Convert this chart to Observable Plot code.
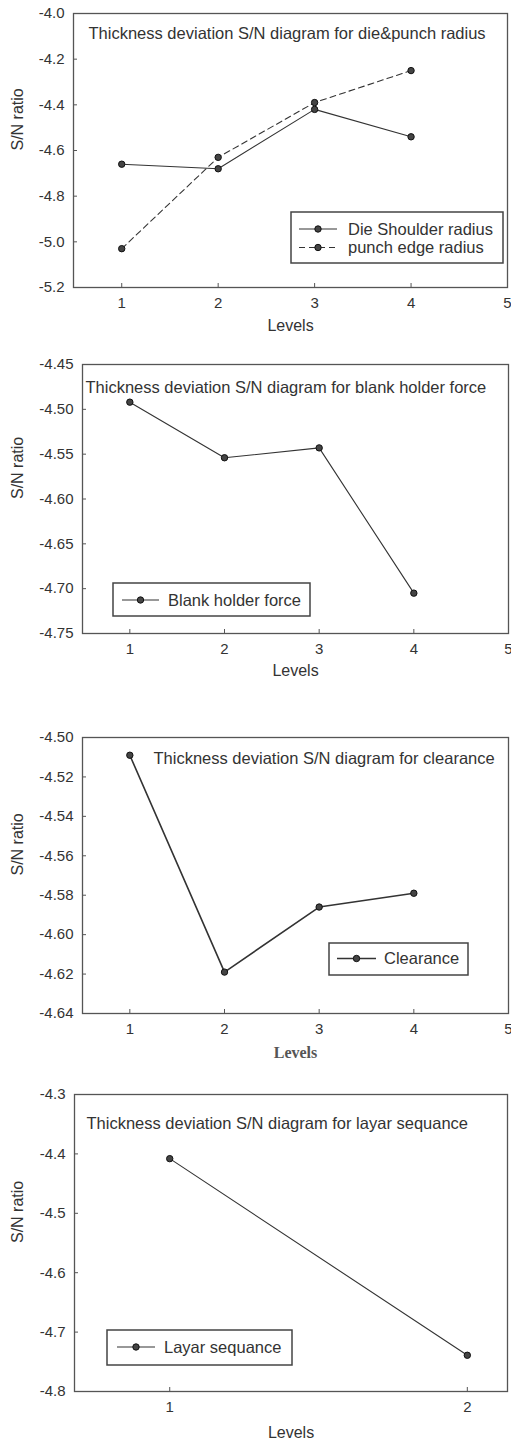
<!DOCTYPE html>
<html>
<head>
<meta charset="utf-8">
<script src="https://cdn.jsdelivr.net/npm/d3@7"></script>
<script src="https://cdn.jsdelivr.net/npm/@observablehq/plot@0.6"></script>
<style>
  html, body { margin: 0; padding: 0; background: #fff; }
  #root { position: relative; width: 511px; height: 1446px; overflow: hidden; }
  .panel { position: absolute; left: 0; }
  .legend { position: absolute; }
</style>
</head>
<body>
<div id="root"></div>
<script>
// ---------- data ----------
const levels4 = [1, 2, 3, 4];
const levels2 = [1, 2];

const dieShoulderRadius = [-4.66, -4.68, -4.42, -4.54];
const punchEdgeRadius   = [-5.03, -4.63, -4.39, -4.25];
const blankHolderForce  = [-4.492, -4.554, -4.543, -4.705];
const clearance         = [-4.509, -4.619, -4.586, -4.579];
const layarSequance     = [-4.408, -4.739];

const xTicks4 = [1, 2, 3, 4, 5];
const xTicks2 = [1, 2];
const yTicks1 = [-5.2, -5.0, -4.8, -4.6, -4.4, -4.2, -4.0];
const yTicks2 = [-4.75, -4.70, -4.65, -4.60, -4.55, -4.50, -4.45];
const yTicks3 = [-4.64, -4.62, -4.60, -4.58, -4.56, -4.54, -4.52, -4.50];
const yTicks4 = [-4.8, -4.7, -4.6, -4.5, -4.4, -4.3];

const titles = [
  "Thickness deviation S/N diagram for die&punch radius",
  "Thickness deviation S/N diagram for blank holder force",
  "Thickness deviation S/N diagram for clearance",
  "Thickness deviation S/N diagram for layar sequance"
];

// ---------- layout ----------
const W = 511;
const INK = "#333";
const FONT = "'Liberation Sans', Arial, sans-serif";

const panels = [
  {
    top: 0, height: 340, mt: 13, mb: 53, ml: 73, mr: 4,
    xDomain: [0.5, 5], xTicks: xTicks4, yDomain: [-5.2, -4.0], yTicks: yTicks1, dec: 1,
    series: [
      {name: "Die Shoulder radius", x: levels4, y: dieShoulderRadius, dash: null},
      {name: "punch edge radius", x: levels4, y: punchEdgeRadius, dash: "6,4"}
    ],
    sw: 1.1, title: titles[0], tdx: 15, tdy: 20, levelsDy: 43, levelsSerif: false,
    legend: {left: 291, top: 212, w: 212, h: 51, rowY: [17, 35.5], lx1: 8, lx2: 46, tx: 57}
  },
  {
    top: 340, height: 350, mt: 24, mb: 57, ml: 82, mr: 3,
    xDomain: [0.5, 5], xTicks: xTicks4, yDomain: [-4.75, -4.45], yTicks: yTicks2, dec: 2,
    series: [{name: "Blank holder force", x: levels4, y: blankHolderForce, dash: null}],
    sw: 1.1, title: titles[1], tdx: 3, tdy: 23, levelsDy: 42, levelsSerif: false,
    legend: {left: 113, top: 583, w: 197, h: 33, rowY: [17], lx1: 9, lx2: 46, tx: 55}
  },
  {
    top: 690, height: 380, mt: 47, mb: 57, ml: 82, mr: 3,
    xDomain: [0.5, 5], xTicks: xTicks4, yDomain: [-4.64, -4.50], yTicks: yTicks3, dec: 2,
    series: [{name: "Clearance", x: levels4, y: clearance, dash: null}],
    sw: 1.6, title: titles[2], tdx: 71, tdy: 21, levelsDy: 44, levelsSerif: true,
    legend: {left: 329, top: 943, w: 139, h: 32, rowY: [15.5], lx1: 8, lx2: 47, tx: 55}
  },
  {
    top: 1070, height: 376, mt: 24, mb: 55, ml: 74, mr: 4,
    xDomain: [0.68, 2.135], xTicks: xTicks2, yDomain: [-4.8, -4.3], yTicks: yTicks4, dec: 1,
    series: [{name: "Layar sequance", x: levels2, y: layarSequance, dash: null}],
    sw: 1.1, title: titles[3], tdx: 12, tdy: 29, levelsDy: 46, levelsSerif: false,
    legend: {left: 107, top: 1330, w: 185, h: 35, rowY: [17], lx1: 10, lx2: 48, tx: 57}
  }
];

const root = document.getElementById("root");

for (const p of panels) {
  const marks = [Plot.frame({stroke: "#555", strokeWidth: 1.3})];
  // inward ticks
  marks.push(Plot.axisY(p.yTicks, {tickSize: 4, dx: 4, text: null, label: null, stroke: "#555"}));
  marks.push(Plot.axisX(p.xTicks, {tickSize: 4, dy: -4, text: null, label: null, stroke: "#555"}));
  // tick labels
  marks.push(Plot.axisY(p.yTicks, {tickSize: 0, tickPadding: 9, label: null,
    tickFormat: d => d.toFixed(p.dec), fontSize: 15, fill: INK}));
  marks.push(Plot.axisX(p.xTicks, {tickSize: 0, tickPadding: 10, label: null,
    tickFormat: d => String(d), fontSize: 15, fill: INK}));
  // series
  for (const s of p.series) {
    const data = s.x.map((x, i) => ({x, y: s.y[i]}));
    marks.push(Plot.line(data, {x: "x", y: "y", stroke: INK, strokeWidth: p.sw, strokeDasharray: s.dash}));
    marks.push(Plot.dot(data, {x: "x", y: "y", r: 3.2, fill: "#444", stroke: "#111", strokeWidth: 1}));
  }
  // titles and axis labels
  marks.push(Plot.text([p.title], {text: d => d, frameAnchor: "top-left", textAnchor: "start",
    lineAnchor: "middle", dx: p.tdx, dy: p.tdy, fontSize: 16.5, fill: INK}));
  marks.push(Plot.text(["S/N ratio"], {text: d => d, frameAnchor: "left", rotate: -90,
    dx: 17 - p.ml, fontSize: 16, fill: INK}));
  marks.push(Plot.text(["Levels"], {text: d => d, frameAnchor: "bottom", dy: p.levelsDy,
    fontSize: 16, fill: p.levelsSerif ? "#555" : INK,
    fontFamily: p.levelsSerif ? "'Liberation Serif', 'Times New Roman', serif" : FONT,
    fontWeight: p.levelsSerif ? "bold" : "normal"}));

  const svg = Plot.plot({
    width: W, height: p.height,
    marginTop: p.mt, marginBottom: p.mb, marginLeft: p.ml, marginRight: p.mr,
    x: {domain: p.xDomain},
    y: {domain: p.yDomain},
    style: {fontFamily: FONT, fontSize: "15px", color: INK, background: "transparent", overflow: "visible"},
    marks
  });
  const div = document.createElement("div");
  div.className = "panel";
  div.style.top = p.top + "px";
  div.appendChild(svg);
  root.appendChild(div);

  // legend box
  const L = p.legend;
  const lg = d3.create("svg").attr("class", "legend")
    .attr("width", L.w + 2).attr("height", L.h + 2)
    .style("left", (L.left - 1) + "px").style("top", (L.top - 1) + "px");
  lg.append("rect").attr("x", 1).attr("y", 1).attr("width", L.w).attr("height", L.h)
    .attr("fill", "white").attr("stroke", "#444").attr("stroke-width", 1.5);
  p.series.forEach((s, i) => {
    const y = L.rowY[i] + 1;
    lg.append("line").attr("x1", L.lx1 + 1).attr("x2", L.lx2 + 1).attr("y1", y).attr("y2", y)
      .attr("stroke", INK).attr("stroke-width", p.sw).attr("stroke-dasharray", s.dash);
    lg.append("circle").attr("cx", (L.lx1 + L.lx2) / 2 + 1).attr("cy", y).attr("r", 3.2)
      .attr("fill", "#444").attr("stroke", "#111");
    lg.append("text").attr("x", L.tx + 1).attr("y", y).attr("dy", "0.35em")
      .attr("font-family", FONT).attr("font-size", 16.5).attr("fill", INK).text(s.name);
  });
  root.appendChild(lg.node());
}
</script>
</body>
</html>
